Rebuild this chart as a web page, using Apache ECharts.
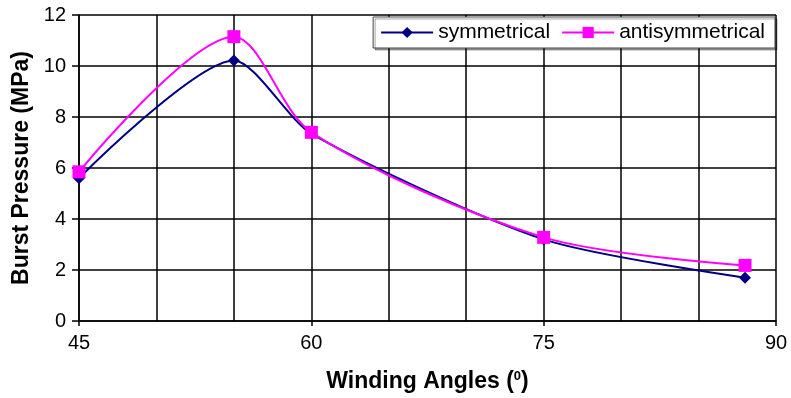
<!DOCTYPE html>
<html><head><meta charset="utf-8">
<script src="https://cdn.jsdelivr.net/npm/echarts@6/dist/echarts.min.js"></script>
<style>html,body{margin:0;padding:0;background:#fff}#c{width:791px;height:398px}</style>
</head><body><div id="c"></div>
<script>
const angles = [45, 55, 60, 75, 88];
const symmetrical = [5.6, 10.22, 7.35, 3.2, 1.7];
const antisymmetrical = [5.85, 11.15, 7.4, 3.28, 2.18];
const seriesNames = ['symmetrical', 'antisymmetrical'];
const xTitle = 'Winding Angles (';
const yTitle = 'Burst Pressure (MPa)';

const chart = echarts.init(document.getElementById('c'));
const font = 'Liberation Sans, Arial, sans-serif';
chart.setOption({
  animation: false,
  backgroundColor: '#fff',
  grid: { left: 79, right: 15, top: 15, bottom: 77, show: false },
  legend: {
    right: 16, top: 17,
    backgroundColor: '#fff',
    borderColor: '#444', borderWidth: 1,
    shadowColor: 'rgba(0,0,0,0.35)', shadowOffsetX: 2, shadowOffsetY: 2, shadowBlur: 0,
    padding: [5, 10, 5, 7],
    itemGap: 11, itemWidth: 52, itemHeight: 14,
    textStyle: { fontFamily: font, fontSize: 21, color: '#000' },
    data: seriesNames
  },
  xAxis: {
    type: 'value', min: 45, max: 90, interval: 15,
    name: '{t|' + xTitle + '}{s|0}{t|)}',
    nameLocation: 'middle', nameGap: 49,
    nameTextStyle: {
      rich: {
        t: { fontFamily: font, fontSize: 23, fontWeight: 'bold', color: '#000' },
        s: { fontFamily: font, fontSize: 13, fontWeight: 'bold', color: '#000', verticalAlign: 'top', padding: [0, 0, 10, 0] }
      }
    },
    axisLine: { show: true, lineStyle: { color: '#000', width: 1.5 } },
    axisTick: { show: true, length: 5, lineStyle: { color: '#000', width: 1.5 } },
    axisLabel: { fontFamily: font, fontSize: 20, color: '#000', margin: 12 },
    splitLine: { show: true, lineStyle: { color: '#000', width: 1.5 } },
    minorTick: { show: false, splitNumber: 3 },
    minorSplitLine: { show: true, lineStyle: { color: '#000', width: 1.5 } }
  },
  yAxis: {
    type: 'value', min: 0, max: 12, interval: 2,
    name: yTitle, nameLocation: 'middle', nameGap: 43,
    nameTextStyle: { fontFamily: font, fontSize: 23, fontWeight: 'bold', color: '#000' },
    axisLine: { show: true, lineStyle: { color: '#000', width: 1.5 } },
    axisTick: { show: true, length: 7, lineStyle: { color: '#000', width: 1.5 } },
    axisLabel: { fontFamily: font, fontSize: 20, color: '#000', margin: 13 },
    splitLine: { show: true, lineStyle: { color: '#000', width: 1.5 } }
  },
  series: [
    {
      name: seriesNames[0], type: 'line', smooth: 0.25,
      data: angles.map((a, i) => [a, symmetrical[i]]),
      symbol: 'diamond', symbolSize: 12,
      lineStyle: { color: '#000080', width: 2 },
      itemStyle: { color: '#000080' }
    },
    {
      name: seriesNames[1], type: 'line', smooth: 0.3,
      data: angles.map((a, i) => [a, antisymmetrical[i]]),
      symbol: 'rect', symbolSize: 13,
      lineStyle: { color: '#FF00FF', width: 2 },
      itemStyle: { color: '#FF00FF' }
    }
  ]
});
</script></body></html>
